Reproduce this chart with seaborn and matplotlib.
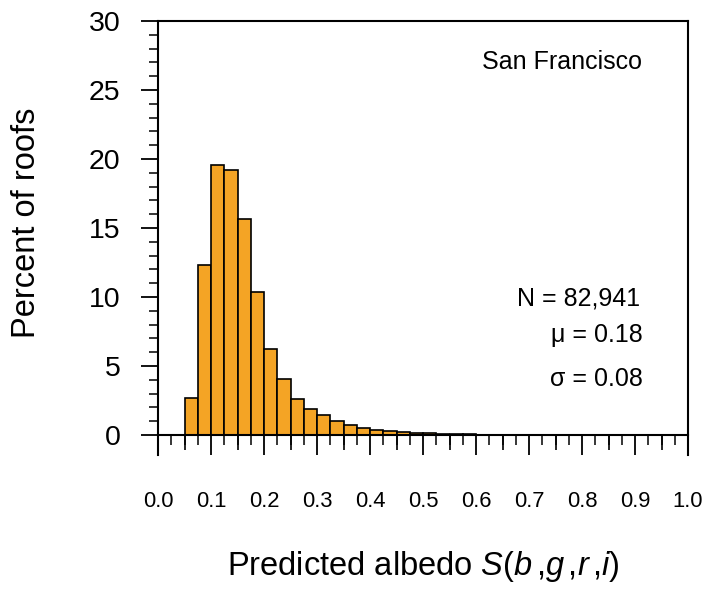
import numpy as np
import pandas as pd
import matplotlib
matplotlib.use("Agg")
import matplotlib.pyplot as plt
from matplotlib.ticker import FixedLocator, MultipleLocator
import seaborn as sns

# Histogram of predicted roof albedo (bin left edge, percent of roofs per bin)
bin_left = [0.050, 0.075, 0.100, 0.125, 0.150, 0.175, 0.200, 0.225, 0.250,
            0.275, 0.300, 0.325, 0.350, 0.375, 0.400, 0.425, 0.450, 0.475,
            0.500, 0.525, 0.550, 0.575, 0.600, 0.625]
percent = [2.71, 12.29, 19.54, 19.20, 15.63, 10.39, 6.26, 4.03, 2.63,
           1.86, 1.45, 1.05, 0.70, 0.54, 0.34, 0.27, 0.20, 0.15,
           0.11, 0.08, 0.06, 0.04, 0.03, 0.02]
bin_width = 0.025

city = "San Francisco"
n_roofs = "82,941"
mean_albedo = "0.18"
sd_albedo = "0.08"

x_label = r"Predicted albedo $S(b\,{,}g\,{,}r\,{,}i)$"
y_label = "Percent of roofs"

sns.set_style("ticks")
plt.rcParams["font.family"] = ["Liberation Sans", "DejaVu Sans"]
plt.rcParams["mathtext.fontset"] = "custom"
plt.rcParams["mathtext.rm"] = "Liberation Sans"
plt.rcParams["mathtext.it"] = "Liberation Sans:italic"
plt.rcParams["text.color"] = "black"
plt.rcParams["axes.labelcolor"] = "black"
plt.rcParams["xtick.color"] = "black"
plt.rcParams["ytick.color"] = "black"

W, H = 707, 591
fig = plt.figure(figsize=(W / 100, H / 100), dpi=100)
ax = fig.add_axes([158 / W, 1 - 455 / H, 530 / W, 434 / H])

df = pd.DataFrame({"albedo": np.array(bin_left) + bin_width / 2,
                   "percent": percent})
sns.histplot(data=df, x="albedo", weights="percent", binwidth=bin_width,
             binrange=(bin_left[0], bin_left[-1] + bin_width), stat="count",
             color="#F4A425", edgecolor="black", linewidth=1.2, alpha=1.0,
             ax=ax)

y_bottom = -1.449
ax.set_xlim(0, 1.0)
ax.set_ylim(y_bottom, 30)

# Frame: x axis line sits at zero, ticks hang below it
for side in ["left", "right", "top", "bottom"]:
    ax.spines[side].set_linewidth(1.5)
    ax.spines[side].set_color("black")
ax.spines["bottom"].set_position(("data", 0))

ax.xaxis.set_major_locator(MultipleLocator(0.1))
ax.xaxis.set_minor_locator(MultipleLocator(0.025))
ax.yaxis.set_major_locator(FixedLocator(range(0, 31, 5)))
ax.yaxis.set_minor_locator(FixedLocator(range(0, 31)))

ax.tick_params(top=False, right=False)
ax.tick_params(axis="y", which="major", direction="out", length=12, width=1.3,
               labelsize=20.5, pad=15, colors="black")
ax.tick_params(axis="y", which="minor", direction="out", length=6.5, width=1.1,
               colors="black")
ax.tick_params(axis="x", which="major", direction="out", length=14.4, width=1.3,
               labelsize=15.8, pad=26, colors="black")
ax.tick_params(axis="x", which="minor", direction="out", length=7, width=1.1,
               colors="black")

# Medium ticks at the half-tenths
zero_frac = -y_bottom / (30 - y_bottom)
sec = ax.secondary_xaxis(zero_frac)
sec.set_xticks(np.arange(0.05, 1.0, 0.1))
sec.tick_params(axis="x", direction="out", length=11, width=1.2,
                labelbottom=False, labeltop=False, colors="black")
for side in sec.spines:
    sec.spines[side].set_visible(False)

ax.set_xlabel(x_label, fontsize=23.5, va="center", color="black")
ax.xaxis.set_label_coords(0.5, -0.2558)
ax.set_ylabel(y_label, fontsize=23.5, va="center", color="black")
ax.yaxis.set_label_coords(-0.249, 0.535)

ax.text(0.9126, 0.9055, city, transform=ax.transAxes, ha="right",
        va="center", fontsize=18, color="black")
ax.text(0.909, 0.360, f"N = {n_roofs}", transform=ax.transAxes, ha="right",
        va="center", fontsize=18, color="black")
ax.text(0.915, 0.2765, f"\u03bc = {mean_albedo}", transform=ax.transAxes,
        ha="right", va="center", fontsize=18, color="black")
ax.text(0.915, 0.175, f"\u03c3 = {sd_albedo}", transform=ax.transAxes,
        ha="right", va="center", fontsize=18, color="black")

fig.savefig("out.png", dpi=100, facecolor="white")
